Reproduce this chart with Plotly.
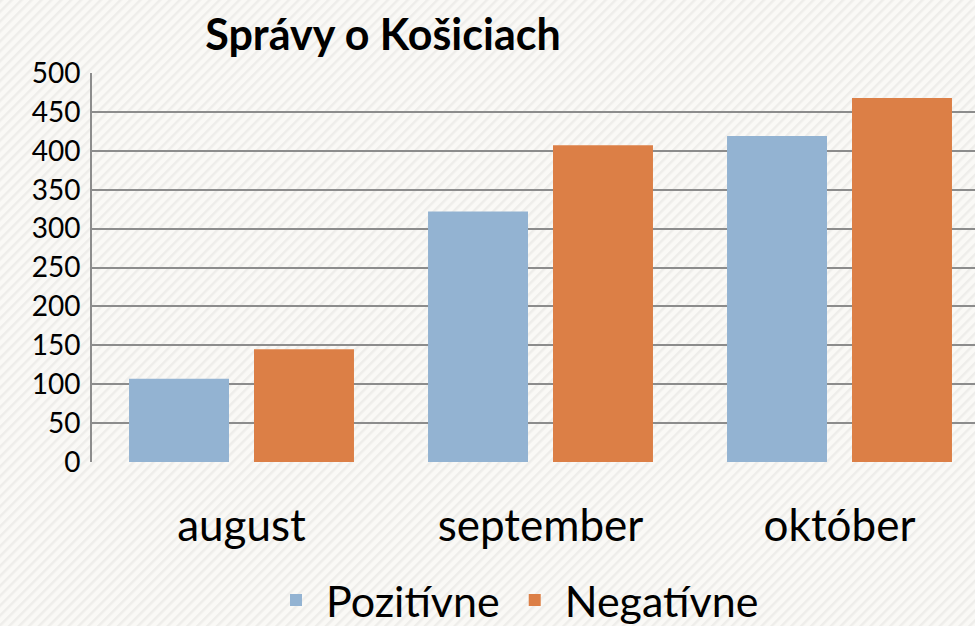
import plotly.graph_objects as go
import urllib.parse

categories = ["august", "september", "október"]
pozitivne = [107, 322, 419]
negativne = [145, 407, 468]
y_ticks = [0, 50, 100, 150, 200, 250, 300, 350, 400, 450, 500]
title_text = "Správy o Košiciach"

W, H = 975, 626
ML, MR, MT, MB = 92, 0, 73, 164
FONT = "Lato, Open Sans, sans-serif"

fig = go.Figure()
fig.add_trace(go.Bar(name="Pozitívne", x=categories, y=pozitivne,
                     marker=dict(color="#93b3d2", line=dict(width=0))))
fig.add_trace(go.Bar(name="Negatívne", x=categories, y=negativne,
                     marker=dict(color="#dc7f46", line=dict(width=0))))

# background stripe pattern
svg = (f'<svg xmlns="http://www.w3.org/2000/svg" width="{W}" height="{H}">'
       '<defs><pattern id="p" width="7" height="7" patternUnits="userSpaceOnUse" '
       'patternTransform="rotate(45)">'
       '<rect width="7" height="7" fill="#faf9f6"/>'
       '<rect width="2.5" height="7" fill="#eeedea"/></pattern></defs>'
       f'<rect width="{W}" height="{H}" fill="url(#p)"/></svg>')
src = "data:image/svg+xml;charset=utf-8," + urllib.parse.quote(svg)
pw = W - ML - MR
ph = H - MT - MB
fig.add_layout_image(dict(source=src, xref="paper", yref="paper",
                          x=-ML / pw, y=1 + MT / ph,
                          sizex=W / pw, sizey=H / ph,
                          xanchor="left", yanchor="top",
                          sizing="stretch", layer="below"))

right_edge = (W - ML) / 299.0 - 0.5
fig.update_layout(
    width=W, height=H,
    margin=dict(l=ML, r=MR, t=MT, b=MB),
    paper_bgcolor="#faf9f6",
    plot_bgcolor="rgba(0,0,0,0)",
    barmode="group", bargap=0.164, bargroupgap=0.2,
    title=dict(text=f"<b>{title_text}</b>", x=383 / W, xanchor="center",
               y=1 - 35 / H, yanchor="middle", xref="container", yref="container",
               font=dict(family=FONT, size=43, color="#000000")),
    font=dict(family=FONT, color="#000000"),
    xaxis=dict(range=[-0.5, right_edge], showgrid=False, showline=False,
               zeroline=False, ticks="", ticklabelstandoff=34,
               tickfont=dict(size=44, color="#000000")),
    yaxis=dict(range=[0, 500], tickvals=y_ticks, showgrid=True,
               gridcolor="#8c8c8c", gridwidth=2, zeroline=False,
               showline=True, linecolor="#8c8c8c", linewidth=2,
               ticks="", ticklabelstandoff=4,
               tickfont=dict(size=28, color="#000000")),
    legend=dict(orientation="h", x=515 / W, xref="container", xanchor="center",
                y=1 - 600 / H, yref="container", yanchor="middle",
                font=dict(size=43, color="#000000"),
                bgcolor="rgba(0,0,0,0)", itemwidth=50),
    showlegend=True,
)

fig.write_html("out.html",
               config={"displayModeBar": False},
               post_script="document.body.style.margin='0px';document.body.style.overflow='hidden';")
